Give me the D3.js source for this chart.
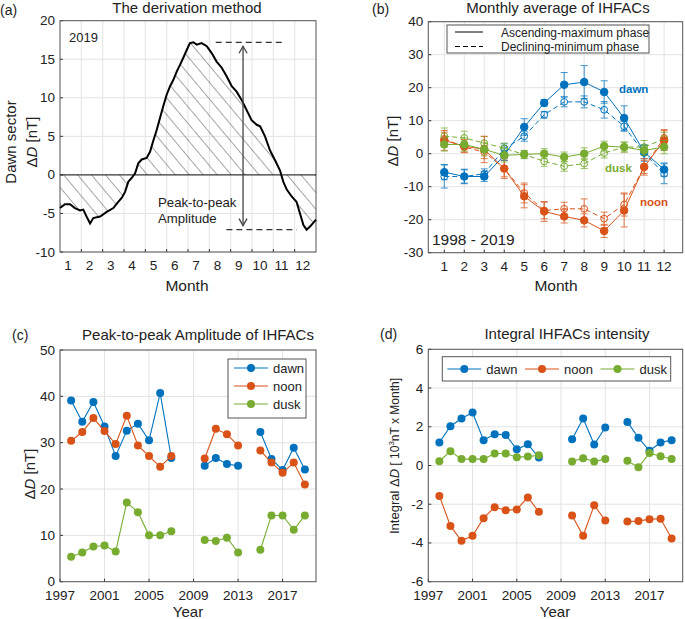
<!DOCTYPE html>
<html lang="en">
<head>
	<meta charset="utf-8" />
	<title>IHFACs</title>
	<script src="https://cdnjs.cloudflare.com/ajax/libs/d3/7.8.5/d3.min.js"></script>
	<style>
		body { margin: 0; background: #fff; }
		svg { font-family: "Liberation Sans", Arial, sans-serif; }
	</style>
</head>
<body>
	<svg width="685" height="619"></svg>
	<script>
		// ---- data ----
		// (a) dawn sector 2019, month elapsed vs deltaD
		const curveT = [0, 0.23, 0.47, 0.70, 0.94, 1.09, 1.28, 1.41, 1.56, 1.88, 2.19, 2.5, 2.73, 2.89, 3.05, 3.2, 3.36, 3.52, 3.67, 3.83, 4.06, 4.22, 4.38, 4.53, 4.69, 4.84, 5.0, 5.16, 5.31, 5.47, 5.63, 5.78, 5.94, 6.09, 6.25, 6.41, 6.64, 6.88, 7.11, 7.34, 7.58, 7.81, 8.05, 8.28, 8.52, 8.75, 8.98, 9.22, 9.38, 9.61, 9.84, 10.08, 10.31, 10.47, 10.63, 10.86, 11.09, 11.25, 11.41, 11.56, 11.72, 11.88, 12.0];
		const curveD = [-4.3, -3.8, -3.8, -4.3, -4.6, -4.5, -5.6, -6.3, -5.6, -5.4, -4.8, -4.3, -3.5, -3.0, -2.2, -0.9, -0.4, 0.2, 1.5, 2.0, 2.2, 3.0, 4.5, 5.8, 7.4, 8.9, 10.4, 11.5, 12.3, 13.4, 14.3, 15.2, 16.2, 17.1, 17.2, 16.9, 17.1, 16.7, 15.8, 14.7, 13.9, 12.8, 11.5, 10.8, 9.7, 8.4, 7.1, 6.5, 6.3, 5.0, 3.2, 1.9, 0.6, -0.9, -1.9, -2.8, -3.5, -5.0, -6.5, -7.1, -6.7, -6.2, -5.8];
		const peakVal = 17.2, troughVal = -7.1;

		// (b) monthly averages 1998-2019
		const months = [1, 2, 3, 4, 5, 6, 7, 8, 9, 10, 11, 12];
		const dawnAsc = [-5.6, -6.9, -6.9, -0.5, 8.1, 15.4, 20.9, 21.7, 18.7, 10.8, 0.5, -4.8];
		const dawnAscErr = [2.3, 2.2, 1.5, 1.5, 2.5, 1.0, 3.7, 5.0, 3.4, 3.7, 2.0, 2.0];
		const dawnDec = [-6.9, -6.9, -6.1, 1.5, 5.3, 11.8, 15.7, 15.7, 13.3, 8.3, 0.2, -6.1];
		const dawnDecErr = [3.5, 2.0, 1.5, 1.5, 1.5, 1.0, 1.5, 1.8, 2.5, 1.5, 2.5, 3.0];
		const noonAsc = [4.0, 2.3, 1.3, -4.5, -12.9, -17.5, -19.0, -20.2, -23.4, -17.2, -4.0, 4.0];
		const noonAscErr = [3.0, 2.0, 4.0, 3.0, 3.5, 3.0, 2.0, 2.0, 2.0, 5.0, 2.5, 3.0];
		const noonDec = [4.5, 2.0, 0.5, -4.5, -11.9, -17.2, -16.7, -16.7, -19.7, -15.4, -4.0, 4.8];
		const noonDecErr = [2.0, 1.5, 2.0, 2.5, 3.0, 2.5, 2.0, 3.0, 2.0, 3.5, 2.0, 2.5];
		const duskAsc = [2.8, 2.8, 1.3, -0.5, -0.2, 0.0, -1.0, 0.0, 2.3, 2.0, 1.0, 2.0];
		const duskAscErr = [2.0, 2.0, 2.0, 2.0, 1.2, 1.5, 1.5, 1.8, 1.5, 1.5, 1.5, 2.0];
		const duskDec = [5.3, 4.8, 3.2, 1.7, -0.3, -2.3, -3.8, -3.0, 0.2, 2.0, 2.0, 4.5];
		const duskDecErr = [2.5, 2.0, 2.0, 1.5, 1.2, 1.5, 1.5, 1.5, 1.5, 1.5, 2.0, 2.0];

		// (c), (d) yearly values, null = no data
		const years = d3.range(1998, 2020);
		const ampDawn = [39.1, 34.5, 38.8, 33.5, 27.1, 32.6, 34.1, 30.5, 40.7, 26.7, null, null, 25.0, 26.7, 25.4, 25.0, null, 32.3, 26.5, 24.1, 28.9, 24.2];
		const ampNoon = [30.4, 32.3, 35.3, 32.5, 29.7, 35.8, 29.4, 27.1, 24.8, 27.1, null, null, 26.6, 33.0, 31.8, 29.4, null, 28.3, 25.7, 23.5, 25.7, 21.0];
		const ampDusk = [5.4, 6.3, 7.6, 7.8, 6.5, 17.1, 15.0, 10.0, 10.0, 10.9, null, null, 9.0, 8.8, 9.5, 6.3, null, 6.9, 14.3, 14.3, 11.2, 14.3];
		const intDawn = [1.19, 2.03, 2.43, 2.74, 1.31, 1.62, 1.58, 0.84, 1.10, 0.41, null, null, 1.36, 2.43, 1.08, 1.96, null, 2.25, 1.43, 0.76, 1.19, 1.31];
		const intNoon = [-1.57, -3.12, -3.89, -3.63, -2.72, -2.15, -2.31, -2.27, -1.65, -2.39, null, null, -2.58, -3.63, -2.05, -2.84, null, -2.89, -2.87, -2.77, -2.75, -3.77];
		const intDusk = [0.22, 0.74, 0.33, 0.33, 0.33, 0.62, 0.62, 0.43, 0.46, 0.53, null, null, 0.21, 0.38, 0.21, 0.33, null, 0.24, -0.09, 0.64, 0.48, 0.34];
		const yearTicks = [1997, 2001, 2005, 2009, 2013, 2017];

		const blue = '#0072BD', orange = '#D95319', green = '#77AC30';

		let svg = d3.select('svg');

		let defs = svg.append('defs');
		defs.append('pattern')
			.attr('id', 'hatch')
			.attr('patternUnits', 'userSpaceOnUse')
			.attr('width', 10.7).attr('height', 10.7)
			.attr('patternTransform', 'rotate(-40)')
			.append('line')
			.attr('x1', 0).attr('y1', 0).attr('x2', 0).attr('y2', 10.7)
			.attr('stroke', '#222').attr('stroke-width', 0.8);

		// draws the frame, grid and ticks for one panel
		function panel(id, x, y, yTicks, xGrid, xLabelPos, xLabelText) {
			let g = svg.append('g').attr('id', id);
			let [x0, x1] = x.range(), [y1, y0] = y.range();
			defs.append('clipPath').attr('id', 'clip-' + id)
				.append('rect').attr('x', x0).attr('y', y0).attr('width', x1 - x0).attr('height', y1 - y0);
			g.append('rect').attr('x', x0).attr('y', y0).attr('width', x1 - x0).attr('height', y1 - y0)
				.attr('fill', '#fff');
			g.selectAll('line.gx').data(xGrid).enter().append('line')
				.attr('x1', d => x(d)).attr('x2', d => x(d)).attr('y1', y0).attr('y2', y1)
				.attr('stroke', '#e3e3e3').attr('stroke-width', 1);
			g.selectAll('line.gy').data(yTicks).enter().append('line')
				.attr('x1', x0).attr('x2', x1).attr('y1', d => y(d)).attr('y2', d => y(d))
				.attr('stroke', '#e3e3e3').attr('stroke-width', 1);
			g.selectAll('line.tx').data(xGrid).enter().append('line')
				.attr('x1', d => x(d)).attr('x2', d => x(d)).attr('y1', y1).attr('y2', y1 - 3)
				.attr('stroke', '#333');
			g.selectAll('line.ty').data(yTicks).enter().append('line')
				.attr('x1', x0).attr('x2', x0 + 3).attr('y1', d => y(d)).attr('y2', d => y(d))
				.attr('stroke', '#333');
			g.selectAll('text.ty').data(yTicks).enter().append('text')
				.attr('x', x0 - 5).attr('y', d => y(d) + 4.5)
				.attr('text-anchor', 'end').attr('font-size', 13.5).attr('fill', '#222')
				.text(d => d);
			g.selectAll('text.tx').data(xLabelPos).enter().append('text')
				.attr('x', d => x(d)).attr('y', y1 + 18)
				.attr('text-anchor', 'middle').attr('font-size', 13.5).attr('fill', '#222')
				.text((d, i) => xLabelText[i]);
			g.append('rect').attr('x', x0).attr('y', y0).attr('width', x1 - x0).attr('height', y1 - y0)
				.attr('fill', 'none').attr('stroke', '#555').attr('stroke-width', 1);
			return g;
		}

		function yLabel(x, y, parts, size) {
			let t = svg.append('text')
				.attr('transform', `translate(${x},${y}) rotate(-90)`)
				.attr('text-anchor', 'middle').attr('font-size', size).attr('fill', '#222');
			parts.forEach(p => {
				let s = t.append('tspan').text(p.t);
				if (p.i) s.attr('font-style', 'italic');
				if (p.s) s.attr('font-size', p.s);
				if (p.dy) s.attr('dy', p.dy);
			});
			return t;
		}

		function plainText(x, y, str, size, anchor, opts) {
			let t = svg.append('text').attr('x', x).attr('y', y)
				.attr('font-size', size).attr('text-anchor', anchor || 'start')
				.attr('fill', '#222').text(str);
			if (opts) Object.keys(opts).forEach(k => t.attr(k, opts[k]));
			return t;
		}

		// ---------- (a) ----------
		let xa = d3.scaleLinear().domain([0, 12]).range([60, 316]);
		let ya = d3.scaleLinear().domain([-10, 20]).range([252, 20.7]);
		let ga = panel('a', xa, ya, [-10, -5, 0, 5, 10, 15, 20], d3.range(1, 12),
			months.map(m => m - 0.62), months.map(String));
		let curve = curveT.map((t, i) => [t, curveD[i]]);
		ga.append('path').datum(curve)
			.attr('clip-path', 'url(#clip-a)')
			.attr('fill', 'url(#hatch)')
			.attr('d', d3.area().x(d => xa(d[0])).y0(ya(0)).y1(d => ya(d[1])));
		ga.append('line').attr('x1', xa(0)).attr('x2', xa(12)).attr('y1', ya(0)).attr('y2', ya(0))
			.attr('stroke', '#111').attr('stroke-width', 1);
		ga.append('path').datum(curve)
			.attr('fill', 'none').attr('stroke', '#000').attr('stroke-width', 2)
			.attr('d', d3.line().x(d => xa(d[0])).y(d => ya(d[1])));
		ga.append('line').attr('x1', xa(7.3)).attr('x2', xa(10.55)).attr('y1', ya(peakVal)).attr('y2', ya(peakVal))
			.attr('stroke', '#333').attr('stroke-width', 1.3).attr('stroke-dasharray', '6,4');
		ga.append('line').attr('x1', xa(7.8)).attr('x2', xa(11.1)).attr('y1', ya(troughVal)).attr('y2', ya(troughVal))
			.attr('stroke', '#333').attr('stroke-width', 1.3).attr('stroke-dasharray', '6,4');
		let ax = xa(8.58), ayTop = ya(peakVal) + 4, ayBot = ya(troughVal) - 4;
		ga.append('line').attr('x1', ax).attr('x2', ax).attr('y1', ayTop).attr('y2', ayBot)
			.attr('stroke', '#444').attr('stroke-width', 1.3);
		ga.append('path')
			.attr('d', `M${ax - 4},${ayTop + 7}L${ax},${ayTop}L${ax + 4},${ayTop + 7}M${ax - 4},${ayBot - 7}L${ax},${ayBot}L${ax + 4},${ayBot - 7}`)
			.attr('fill', 'none').attr('stroke', '#444').attr('stroke-width', 1.3);
		plainText(69, 42, '2019', 13);
		plainText(158, 207, 'Peak-to-peak', 13.2);
		plainText(158, 223, 'Amplitude', 13.2);
		plainText(187, 13, 'The derivation method', 15, 'middle');
		plainText(0, 15, '(a)', 14);
		plainText(187, 291, 'Month', 15.5, 'middle');
		yLabel(16, 142, [{t: 'Dawn sector'}], 15);
		yLabel(37, 142, [{t: '\u0394'}, {t: 'D', i: true}, {t: '  [nT]'}], 15);

		// ---------- (b) ----------
		let xb = d3.scaleLinear().domain([0.2, 12.93]).range([428.3, 682.7]);
		let yb = d3.scaleLinear().domain([-30, 40]).range([252.7, 21.7]);
		let gb = panel('b', xb, yb, d3.range(-30, 41, 10), months, months, months.map(String));

		let seriesB = [
			{v: dawnDec, e: dawnDecErr, c: blue, dash: true},
			{v: noonDec, e: noonDecErr, c: orange, dash: true},
			{v: duskDec, e: duskDecErr, c: green, dash: true},
			{v: dawnAsc, e: dawnAscErr, c: blue, dash: false},
			{v: noonAsc, e: noonAscErr, c: orange, dash: false},
			{v: duskAsc, e: duskAscErr, c: green, dash: false}
		];
		let lineB = d3.line().x((d, i) => xb(months[i])).y(d => yb(d));
		seriesB.forEach(s => {
			let g = gb.append('g');
			g.append('path').datum(s.v)
				.attr('fill', 'none').attr('stroke', s.c).attr('stroke-width', 1)
				.attr('stroke-dasharray', s.dash ? '5,3' : null)
				.attr('d', lineB);
			let eb = g.selectAll('g.eb').data(s.v).enter().append('g')
				.attr('stroke', s.c).attr('stroke-width', 1).attr('opacity', 0.75);
			eb.append('line').attr('x1', (d, i) => xb(months[i])).attr('x2', (d, i) => xb(months[i]))
				.attr('y1', (d, i) => yb(d + s.e[i])).attr('y2', (d, i) => yb(d - s.e[i]));
			eb.append('line').attr('x1', (d, i) => xb(months[i]) - 3.5).attr('x2', (d, i) => xb(months[i]) + 3.5)
				.attr('y1', (d, i) => yb(d + s.e[i])).attr('y2', (d, i) => yb(d + s.e[i]));
			eb.append('line').attr('x1', (d, i) => xb(months[i]) - 3.5).attr('x2', (d, i) => xb(months[i]) + 3.5)
				.attr('y1', (d, i) => yb(d - s.e[i])).attr('y2', (d, i) => yb(d - s.e[i]));
			g.selectAll('circle').data(s.v).enter().append('circle')
				.attr('cx', (d, i) => xb(months[i])).attr('cy', d => yb(d))
				.attr('r', s.dash ? 3.4 : 3.8)
				.attr('fill', s.dash ? 'none' : s.c)
				.attr('stroke', s.c).attr('stroke-width', 1);
		});
		// legend
		gb.append('rect').attr('x', 447).attr('y', 25).attr('width', 202).attr('height', 28)
			.attr('fill', '#fff').attr('stroke', '#555').attr('stroke-width', 1);
		gb.append('line').attr('x1', 455).attr('x2', 483).attr('y1', 32).attr('y2', 32)
			.attr('stroke', '#000').attr('stroke-width', 1);
		gb.append('line').attr('x1', 455).attr('x2', 483).attr('y1', 46.5).attr('y2', 46.5)
			.attr('stroke', '#000').attr('stroke-width', 1).attr('stroke-dasharray', '5,3');
		plainText(501, 36.5, 'Ascending-maximum phase', 12);
		plainText(501, 51, 'Declining-minimum phase', 12);
		plainText(619, 93, 'dawn', 11.5, 'start', {'fill': blue, 'font-weight': 'bold'});
		plainText(605, 172, 'dusk', 11.5, 'start', {'fill': green, 'font-weight': 'bold'});
		plainText(640, 206, 'noon', 11.5, 'start', {'fill': orange, 'font-weight': 'bold'});
		plainText(432, 245, '1998 - 2019', 15.5);
		plainText(558, 13, 'Monthly average of IHFACs', 15, 'middle');
		plainText(372, 14, '(b)', 14);
		plainText(556, 291, 'Month', 15.5, 'middle');
		yLabel(398, 141, [{t: '\u0394'}, {t: 'D', i: true}, {t: '  [nT]'}], 15);

		// ---------- (c) and (d) ----------
		function yearlyPanel(id, x, y, yTicks, series) {
			let g = panel(id, x, y, yTicks, yearTicks, yearTicks, yearTicks.map(String));
			let line = d3.line().defined(d => d != null).x((d, i) => x(years[i])).y(d => y(d));
			series.forEach(s => {
				g.append('path').datum(s.v)
					.attr('fill', 'none').attr('stroke', s.c).attr('stroke-width', 1.1)
					.attr('d', line);
				g.selectAll(null).data(s.v.map((v, i) => [years[i], v]).filter(d => d[1] != null))
					.enter().append('circle')
					.attr('cx', d => x(d[0])).attr('cy', d => y(d[1])).attr('r', 4)
					.attr('fill', s.c);
			});
			return g;
		}
		function legendItem(g, x, y, c, name) {
			g.append('line').attr('x1', x).attr('x2', x + 34).attr('y1', y).attr('y2', y)
				.attr('stroke', c).attr('stroke-width', 1.1);
			g.append('circle').attr('cx', x + 17).attr('cy', y).attr('r', 4).attr('fill', c);
			g.append('text').attr('x', x + 39).attr('y', y + 4.5).attr('font-size', 13)
				.attr('fill', '#222').text(name);
		}

		let xc = d3.scaleLinear().domain([1997, 2020]).range([60, 316]);
		let yc = d3.scaleLinear().domain([0, 50]).range([581.7, 350]);
		let gc = yearlyPanel('c', xc, yc, d3.range(0, 51, 10), [
			{v: ampDawn, c: blue}, {v: ampNoon, c: orange}, {v: ampDusk, c: green}]);
		gc.append('rect').attr('x', 228).attr('y', 359).attr('width', 78).attr('height', 59)
			.attr('fill', '#fff').attr('stroke', '#555');
		legendItem(gc, 234, 368, blue, 'dawn');
		legendItem(gc, 234, 386, orange, 'noon');
		legendItem(gc, 234, 404, green, 'dusk');
		plainText(198, 340, 'Peak-to-peak Amplitude of IHFACs', 15, 'middle');
		plainText(12, 340, '(c)', 14);
		plainText(188, 617, 'Year', 15, 'middle');
		yLabel(35, 474, [{t: '\u0394'}, {t: 'D', i: true}, {t: '  [nT]'}], 15);

		let xd = d3.scaleLinear().domain([1997, 2020]).range([428.3, 682.7]);
		let yd = d3.scaleLinear().domain([-6, 6]).range([581.7, 349.3]);
		let gd = yearlyPanel('d', xd, yd, d3.range(-6, 7, 2), [
			{v: intDawn, c: blue}, {v: intNoon, c: orange}, {v: intDusk, c: green}]);
		gd.append('rect').attr('x', 442.3).attr('y', 356.7).attr('width', 228.4).attr('height', 24.3)
			.attr('fill', '#fff').attr('stroke', '#555');
		legendItem(gd, 447.3, 369, blue, 'dawn');
		legendItem(gd, 525, 369, orange, 'noon');
		legendItem(gd, 600.5, 369, green, 'dusk');
		plainText(567, 339, 'Integral IHFACs intensity', 15, 'middle');
		plainText(380, 339, '(d)', 14);
		plainText(555, 617, 'Year', 15, 'middle');
		yLabel(399, 456, [{t: 'Integral '}, {t: '\u0394'}, {t: 'D', i: true},
			{t: '  [ 10', s: 12}, {t: '3', s: 8, dy: -5}, {t: 'nT x Month]', s: 12, dy: 5}], 13);
	</script>
</body>
</html>
